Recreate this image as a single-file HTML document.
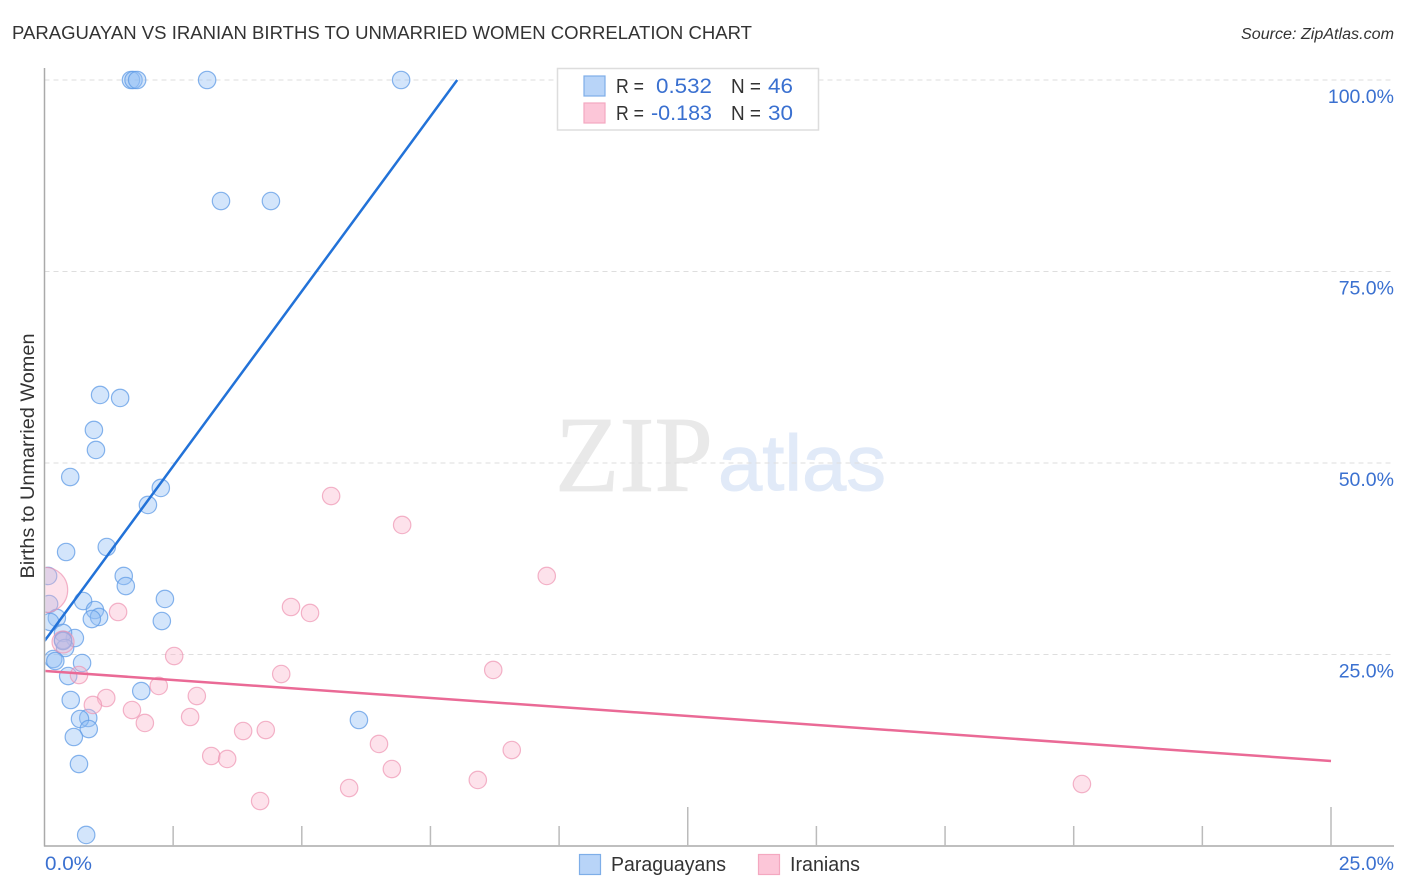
<!DOCTYPE html>
<html>
<head>
<meta charset="utf-8">
<title>Paraguayan vs Iranian Births to Unmarried Women Correlation Chart</title>
<style>
html,body{margin:0;padding:0;background:#fff;width:1406px;height:892px;overflow:hidden}
svg{display:block;font-family:"Liberation Sans",sans-serif}
</style>
</head>
<body>
<svg id="chart" width="1406" height="892" viewBox="0 0 1406 892" xmlns="http://www.w3.org/2000/svg">
  <defs><clipPath id="plot-clip"><rect x="45.5" y="60" width="1350" height="786"/></clipPath></defs>
  <rect width="1406" height="892" fill="#fff"/>
  <text x="12" y="39" font-size="18.5" fill="#333" textLength="740" lengthAdjust="spacingAndGlyphs">PARAGUAYAN VS IRANIAN BIRTHS TO UNMARRIED WOMEN CORRELATION CHART</text>
  <text x="1241" y="39" font-size="15.5" font-style="italic" fill="#333" textLength="153" lengthAdjust="spacingAndGlyphs">Source: ZipAtlas.com</text>
  <g>
    <text x="555" y="491" font-family="'Liberation Serif',serif" font-size="108" fill="#e9e9e9" stroke="#e9e9e9" stroke-width="0.8" textLength="158" lengthAdjust="spacingAndGlyphs">ZIP</text>
    <text x="718" y="490" font-size="79" fill="#e1eaf8" stroke="#e1eaf8" stroke-width="1" textLength="168" lengthAdjust="spacingAndGlyphs">atlas</text>
  </g>
  <g id="grid"></g>
  <g id="points" clip-path="url(#plot-clip)"></g>
  <g id="trends" clip-path="url(#plot-clip)"></g>
  <g id="axes"></g>
  <text transform="translate(34,456) rotate(-90)" font-size="19.5" fill="#333" text-anchor="middle" textLength="245" lengthAdjust="spacingAndGlyphs">Births to Unmarried Women</text>
  <g>
    <rect x="557.5" y="68.5" width="261" height="61.5" fill="#fff" stroke="#ddd" stroke-width="1.5"/>
    <rect x="584" y="76" width="21" height="20" fill="#b8d4f8" stroke="#7eaee8" stroke-width="1.2"/>
    <rect x="584" y="103" width="21" height="20" fill="#fcc6d8" stroke="#f4a8c0" stroke-width="1.2"/>
    <g font-size="20" fill="#333">
      <text x="616" y="93" textLength="28" lengthAdjust="spacingAndGlyphs">R =</text>
      <text x="731" y="93" textLength="30" lengthAdjust="spacingAndGlyphs">N =</text>
      <text x="616" y="120" textLength="28" lengthAdjust="spacingAndGlyphs">R =</text>
      <text x="731" y="120" textLength="30" lengthAdjust="spacingAndGlyphs">N =</text>
    </g>
    <g font-size="21.5" fill="#3a70d0">
      <text x="656" y="93" textLength="56" lengthAdjust="spacingAndGlyphs">0.532</text>
      <text x="768" y="93" textLength="25" lengthAdjust="spacingAndGlyphs">46</text>
      <text x="651" y="120" textLength="61" lengthAdjust="spacingAndGlyphs">-0.183</text>
      <text x="768" y="120" textLength="25" lengthAdjust="spacingAndGlyphs">30</text>
    </g>
  </g>
  <g>
    <g>
      <rect x="579.5" y="854.5" width="21" height="20" fill="#b8d4f8" stroke="#7eaee8" stroke-width="1.2"/>
      <text x="611" y="871" font-size="20" fill="#333" textLength="115" lengthAdjust="spacingAndGlyphs">Paraguayans</text>
    </g>
    <g>
      <rect x="758.5" y="854.5" width="21" height="20" fill="#fcc6d8" stroke="#f4a8c0" stroke-width="1.2"/>
      <text x="790" y="871" font-size="20" fill="#333" textLength="70" lengthAdjust="spacingAndGlyphs">Iranians</text>
    </g>
  </g>
</svg>
<script>
const paraguayanX = [1.68,1.73,1.80,3.16,6.93,3.43,4.40,1.08,1.47,0.96,1.00,0.50,2.26,2.01,0.42,1.21,1.54,1.58,0.07,0.75,0.98,1.06,0.92,2.34,2.28,0.09,0.24,0.11,0.59,0.36,0.36,0.40,0.17,0.21,0.73,0.46,1.88,0.51,0.85,0.69,0.86,0.57,0.67,0.81,6.11,0.36];
const paraguayanY = [100,100,100,100,100,84.2,84.2,58.88,58.49,54.31,51.70,48.17,46.74,44.52,38.38,39.03,35.25,33.94,35.25,31.98,30.81,29.90,29.63,32.25,29.37,31.59,29.77,29.24,27.15,27.81,26.89,25.85,24.41,24.15,23.89,22.19,20.23,19.06,16.71,16.58,15.27,14.23,10.70,1.44,16.45,26.76];
const iranianX = [0.01,1.43,0.36,2.52,0.67,2.22,2.96,2.83,1.20,0.94,1.70,1.95,3.24,3.55,3.86,4.30,4.60,4.79,5.16,5.57,6.95,9.76,8.72,6.50,6.75,5.92,4.19,8.42,9.08,20.16];
const iranianY = [33.42,30.55,26.63,24.80,22.32,20.89,19.58,16.84,19.32,18.41,17.75,16.06,11.75,11.36,15.01,15.14,22.45,31.20,30.42,45.69,41.91,35.25,22.98,13.32,10.05,7.57,5.87,8.62,12.53,8.09];
const iranianWeight = [6.8,1,1.6,1,1,1,1,1,1,1,1,1,1,1,1,1,1,1,1,1,1,1,1,1,1,1,1,1,1,1];
const paraguayanTrendX = [0, 8.02];
const paraguayanTrendY = [26.76, 100];
const iranianTrendX = [0, 25];
const iranianTrendY = [22.85, 11.10];
const yTickValues = [100, 75, 50, 25];
const yTickLabels = ['100.0%', '75.0%', '50.0%', '25.0%'];
const xMinorTicks = [2.5, 5, 7.5, 10, 15, 17.5, 20, 22.5];
const xMajorTicks = [12.5, 25];
const xEdgeValues = [0, 25];
const xEdgeLabels = ['0.0%', '25.0%'];

const SVGNS = 'http://www.w3.org/2000/svg';
const sx = v => 44.5 + v * 51.46;
const sy = v => 846 - v * 7.66;
function mk(parent, tag, attrs, text) {
  const el = document.createElementNS(SVGNS, tag);
  for (const k in attrs) el.setAttribute(k, attrs[k]);
  if (text !== undefined) el.textContent = text;
  parent.appendChild(el);
  return el;
}
const grid = document.getElementById('grid');
const axes = document.getElementById('axes');
const points = document.getElementById('points');
const trends = document.getElementById('trends');

yTickValues.forEach((v, i) => {
  const l = mk(grid, 'line', {x1: 44.5, x2: 1394, y1: sy(v), y2: sy(v), stroke: '#dedede', 'stroke-width': 1, 'stroke-dasharray': '5 4'});
  
  
  const t = mk(axes, 'text', {x: 1394, y: sy(v) + 23, 'font-size': 19.5, fill: '#3a70d0', 'text-anchor': 'end'}, yTickLabels[i]);
  
  
});

const yAxis = mk(axes, 'line', {x1: 44.5, x2: 44.5, y1: 68, y2: 846.5, stroke: '#aaa', 'stroke-width': 1.5});


const xAxis = mk(axes, 'line', {x1: 44, x2: 1394, y1: 846, y2: 846, stroke: '#aaa', 'stroke-width': 1.5});



xMinorTicks.forEach(v => {
  const l = mk(axes, 'line', {x1: sx(v), x2: sx(v), y1: 826, y2: 846, stroke: '#bbb', 'stroke-width': 1.5});
  
  
});
xMajorTicks.forEach(v => {
  const l = mk(axes, 'line', {x1: sx(v), x2: sx(v), y1: 807, y2: 846, stroke: '#bbb', 'stroke-width': 1.5});
  
  
});
xEdgeValues.forEach((v, i) => {
  const attrs = i === 0
    ? {x: 45, y: 870, 'font-size': 19.5, fill: '#3a70d0', textLength: 47, lengthAdjust: 'spacingAndGlyphs'}
    : {x: 1394, y: 870, 'font-size': 19.5, fill: '#3a70d0', 'text-anchor': 'end'};
  const t = mk(axes, 'text', attrs, xEdgeLabels[i]);
  
  
});

paraguayanX.forEach((x, i) => {
  const c = mk(points, 'circle', {cx: sx(x), cy: sy(paraguayanY[i]), r: 8.7, fill: '#90bdf5', 'fill-opacity': 0.4, stroke: '#5f9be6', 'stroke-opacity': 0.75, 'stroke-width': 1.2});
  
  
});
iranianX.forEach((x, i) => {
  const c = mk(points, 'circle', {cx: sx(x), cy: sy(iranianY[i]), r: 8.7 * Math.sqrt(iranianWeight[i]), fill: '#f9b4cb', 'fill-opacity': 0.38, stroke: '#ee94b2', 'stroke-opacity': 0.7, 'stroke-width': 1.2});
  
  
});

const t1 = mk(trends, 'line', {x1: sx(paraguayanTrendX[0]), y1: sy(paraguayanTrendY[0]), x2: sx(paraguayanTrendX[1]), y2: sy(paraguayanTrendY[1]), stroke: '#2272d8', 'stroke-width': 2.5});


const t2 = mk(trends, 'line', {x1: sx(iranianTrendX[0]), y1: sy(iranianTrendY[0]), x2: sx(iranianTrendX[1]), y2: sy(iranianTrendY[1]), stroke: '#ea6a96', 'stroke-width': 2.5});


</script>
</body>
</html>
